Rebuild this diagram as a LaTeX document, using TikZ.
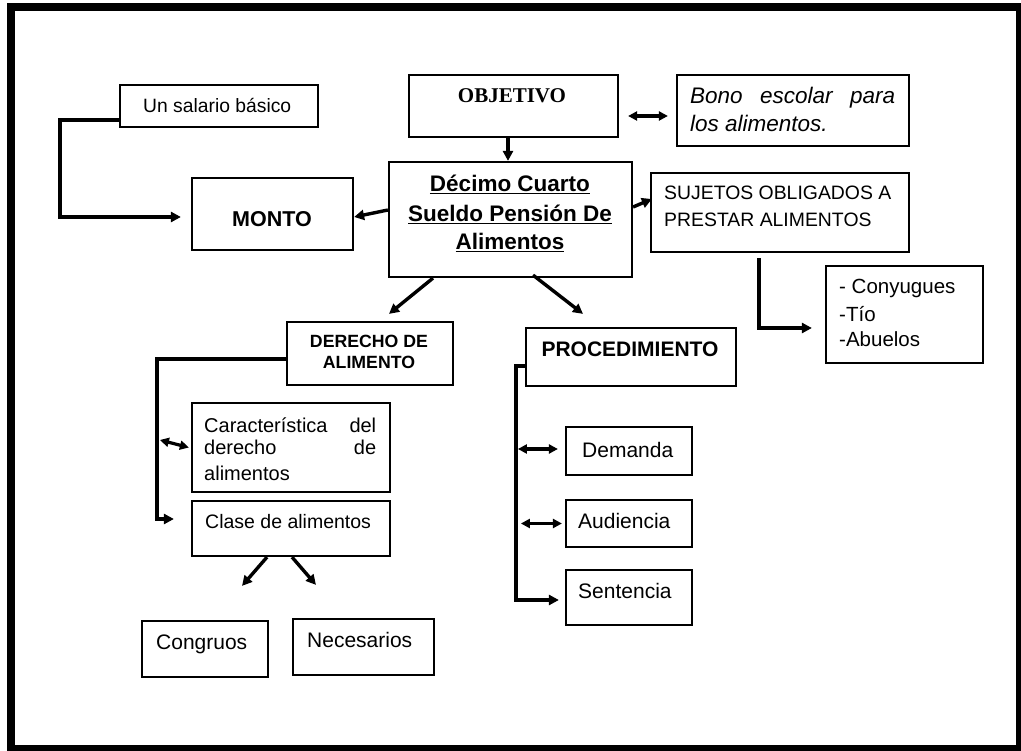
\documentclass[tikz,border=0pt]{standalone}
\usepackage{fontspec}
\setmainfont{Liberation Sans}
\newfontfamily\timesfont{Liberation Serif}
\usetikzlibrary{arrows.meta}
\newcommand\fs[1]{\fontsize{#1pt}{#1pt}\selectfont}
\newcommand\bx[5]{\node[box,minimum width={#4-#2},minimum height={#5-#3}] (#1) at ({(#2+#4)/2},{(#3+#5)/2}) {};}
\begin{document}
\begin{tikzpicture}[x=1pt,y=-1pt,
  box/.style={draw,line width=2.2pt,inner sep=0pt},
  txt/.style={inner sep=0pt,anchor=base west},
  ctxt/.style={inner sep=0pt,anchor=base},
  conn/.style={line width=3.4pt,-{Triangle[length=10pt,width=10pt]}},
  dbl/.style={line width=3.2pt,{Triangle[length=9pt,width=9pt]}-{Triangle[length=9pt,width=9pt]}}]
\useasboundingbox (0,0) rectangle (1021,751);
\fill[white] (0,0) rectangle (1021,751);
\draw[line width=8pt] (11,7) rectangle (1020,749);
% boxes
\bx{sal}{120}{85}{318}{127}
\bx{monto}{192}{178}{353}{250}
\bx{obj}{409}{75}{618}{137}
\bx{bono}{677}{75}{909}{146}
\bx{central}{389}{162}{632}{277}
\bx{sujetos}{651}{173}{909}{252}
\bx{cony}{826}{266}{983}{363}
\bx{derecho}{287}{322}{453}{385}
\bx{proc}{526}{328}{736}{386}
\bx{carac}{192}{403}{390}{492}
\bx{clase}{192}{501}{390}{556}
\bx{congr}{142}{621}{268}{677}
\bx{neces}{293}{619}{434}{675}
\bx{dem}{566}{427}{692}{475}
\bx{aud}{566}{500}{692}{547}
\bx{sent}{566}{570}{692}{625}
% texts
\node[txt] (tsal) at (143,113) {\fs{19.3}Un salario básico};
\node[ctxt] (tmonto) at (272,227) {\fs{21.5}\bfseries MONTO};
\node[ctxt] (tobj) at (512,103) {\timesfont\bfseries\fs{21}OBJETIVO};
\node[txt] (tbono1) at (690,104) {\fs{22.5}\itshape\makebox[205pt][s]{Bono escolar para}};
\node[txt] (tbono2) at (690,132) {\fs{22.5}\itshape los alimentos.};
\node[ctxt] (tc1) at (510,192) {\fs{22.5}\bfseries\underline{Décimo Cuarto}};
\node[ctxt] (tc2) at (510,222) {\fs{22.5}\bfseries\underline{Sueldo Pensión De}};
\node[ctxt] (tc3) at (510,250) {\fs{22.5}\bfseries\underline{Alimentos}};
\node[txt] (tsuj1) at (664,200) {\fs{19.4}SUJETOS OBLIGADOS A};
\node[txt] (tsuj2) at (664,227) {\fs{19.4}PRESTAR ALIMENTOS};
\node[txt] (tcon1) at (839,294) {\fs{20.5}- Conyugues};
\node[txt] (tcon2) at (839,322) {\fs{20.5}-Tío};
\node[txt] (tcon3) at (839,347) {\fs{20.5}-Abuelos};
\node[ctxt] (tder1) at (369,348) {\fs{17.7}\bfseries DERECHO DE};
\node[ctxt] (tder2) at (369,369) {\fs{17.7}\bfseries ALIMENTO};
\node[ctxt] (tproc) at (630,357) {\fs{21}\bfseries PROCEDIMIENTO};
\node[txt] (tcar1) at (204,432) {\fs{20}\makebox[172pt][s]{Característica del}};
\node[txt] (tcar2) at (204,455) {\fs{20}\makebox[172pt][s]{derecho de}};
\node[txt] (tcar3) at (204,480) {\fs{20}alimentos};
\node[txt] (tcla) at (205,528) {\fs{19.5}Clase de alimentos};
\node[txt] (tcon) at (156,649) {\fs{21}Congruos};
\node[txt] (tnec) at (307,647) {\fs{21}Necesarios};
\node[txt] (tdem) at (582,457) {\fs{21}Demanda};
\node[txt] (taud) at (578,528) {\fs{21}Audiencia};
\node[txt] (tsen) at (578,598) {\fs{21}Sentencia};
% connectors
\draw[conn] ([yshift=-14pt]sal.west) -- ++(-59,0) |- ([xshift=-10pt,yshift=-3pt]monto.west);
\draw[conn] ([yshift=9.5pt]central.west) -- ([yshift=-3pt]monto.east);
\draw[conn] ([xshift=-5.5pt]obj.south) -- ([xshift=-2.5pt]central.north);
\draw[dbl] ([xshift=9pt,yshift=-10pt]obj.east) -- ([xshift=-8pt,yshift=-5.5pt]bono.west);
\draw[conn] ([yshift=12.5pt]central.east) -- ([xshift=2pt,yshift=13.5pt]sujetos.west);
\draw[conn] ([xshift=-21pt,yshift=-5pt]sujetos.south) |- ([xshift=-13pt,yshift=-13.5pt]cony.west);
\draw[conn] ([xshift=-77.5pt]central.south) -- ([xshift=19pt,yshift=7pt]derecho.north);
\draw[conn] ([xshift=22.5pt,yshift=3pt]central.south) -- ([xshift=-48pt,yshift=13pt]proc.north);
\draw[conn] ([yshift=-5.5pt]derecho.west) -- ++(-129,0) |- ([xshift=-17pt,yshift=9.5pt]clase.west);
\draw[dbl] ([xshift=-31pt,yshift=7.5pt]carac.west) -- ([xshift=-2pt]carac.west);
\draw[conn] ([xshift=-24pt]clase.south) -- ([xshift=37pt,yshift=34pt]congr.north);
\draw[conn] ([xshift=1pt]clase.south) -- ([xshift=-47.5pt,yshift=33pt]neces.north);
\draw[conn] ([yshift=-9pt]proc.west) -- ++(-9,0) |- ([xshift=-6pt,yshift=-2.5pt]sent.west);
\draw[dbl] ([xshift=-47pt,yshift=2pt]dem.west) -- ([xshift=-7pt,yshift=2pt]dem.west);
\draw[dbl] ([xshift=-44pt]aud.west) -- ([xshift=-3pt]aud.west);
\end{tikzpicture}
\end{document}
